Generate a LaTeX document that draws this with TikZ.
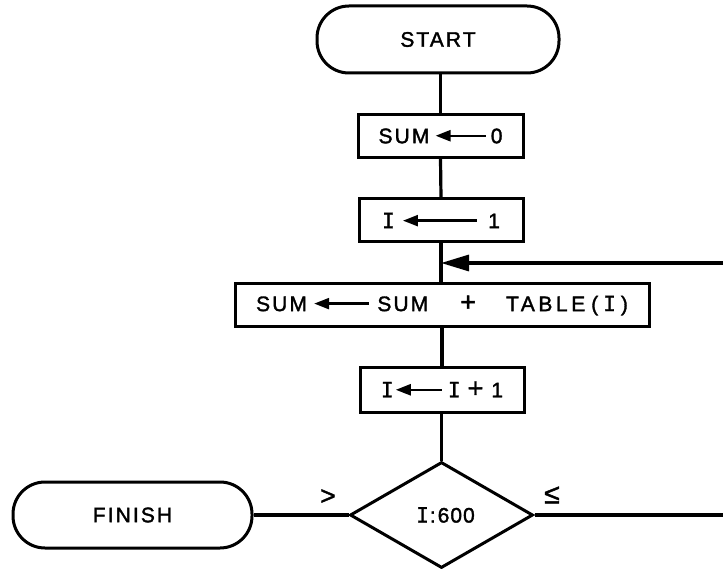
\documentclass[tikz,border=0pt]{standalone}
\usepackage{fontspec}
\setmainfont{Liberation Sans}[LetterSpace=10, FakeBold=1.6]
\newfontfamily\slabfont{DejaVu Sans Mono}[FakeBold=1.2]
\newfontfamily\widefont{Liberation Sans}[LetterSpace=17, FakeBold=1.6]
\usetikzlibrary{shapes.geometric,arrows.meta}
% slab-serif capital I used for the loop variable
\newcommand\Iv{{\slabfont I}}
% larger plus sign
\newcommand\plus{{\fontsize{27}{30}\selectfont +}}
% assignment arrow drawn inside box texts
\newcommand\getsarrow[1]{\tikz[baseline=0pt]\draw[line width=2.4pt,{Triangle[length=15pt,width=11pt]}-](0pt,7.5pt)--(#1,7.5pt);}
\tikzset{
  flow/.style={line width=3.2pt},
  terminal/.style={draw, line width=3pt, rounded corners=32pt, inner sep=0pt},
  procbox/.style={draw, line width=3pt, inner sep=0pt, minimum height=43pt},
  decision/.style={draw, diamond, line width=3pt, inner sep=0pt, aspect=1.73,
                   minimum width=183pt, minimum height=106pt},
  relabel/.style={inner sep=0pt}
}
\begin{document}
\begin{tikzpicture}[x=1pt, y=-1pt, font=\fontsize{21}{25}\selectfont]
\useasboundingbox (0,0) rectangle (723,569);

\node[terminal, minimum width=242pt, minimum height=67pt] (start) at (438,39.5) {START};
\node[procbox, minimum width=165pt] (s0) at (440.5,136) {SUM\hspace{5pt}\getsarrow{50pt}\hspace{4pt}0};
\node[procbox, minimum width=164pt] (i1) at (441,220.5) {\Iv\hspace{7pt}\getsarrow{74pt}\hspace{10pt}1};
\node[procbox, minimum width=414pt] (acc) at (442,305.5)
  {SUM\hspace{6pt}\getsarrow{55pt}\hspace{7pt}SUM\hspace{32pt}\plus\hspace{30pt}{\widefont TABLE}\hspace{6pt}(\hspace{5pt}\Iv\hspace{5pt})\hspace{6pt}};
\node[procbox, minimum width=164pt, minimum height=45pt] (inc) at (442,389.5)
  {\Iv\hspace{1pt}\getsarrow{46pt}\hspace{5pt}\Iv\hspace{7pt}\plus\hspace{8pt}1};
\node[decision] (dec) at (441.5,515) {\hspace{8pt}\Iv\hspace{1pt}:\hspace{2pt}6\hspace{1pt}0\hspace{1pt}0};
\node[terminal, minimum width=239pt, minimum height=66pt] (fin) at (132.5,515) {FINISH};

\coordinate (loopin) at (723,263);
\coordinate (exitr) at (723,515);

\draw[flow] (start.south -| s0.north) -- (s0.north);
\draw[flow] (s0.south) -- (i1.north);
\draw[flow] (i1.south) -- (i1.south |- acc.north);
\draw[flow] (acc.south -| inc.north) -- (inc.north);
\draw[flow] (inc.south) -- (inc.south -| dec.north) -- (dec.north);
\draw[flow, -{Triangle[length=28pt,width=16pt]}] (loopin) -- (loopin -| i1.south);
\draw[flow] (fin.east) -- (dec.west);
\draw[flow] (dec.east) -- (exitr);

\node[relabel, font=\fontsize{26}{30}\selectfont] (gt) at (328,497) {>};
\node[relabel, font=\fontsize{28}{32}\selectfont] (le) at (552,495) {≤};
\end{tikzpicture}
\end{document}
